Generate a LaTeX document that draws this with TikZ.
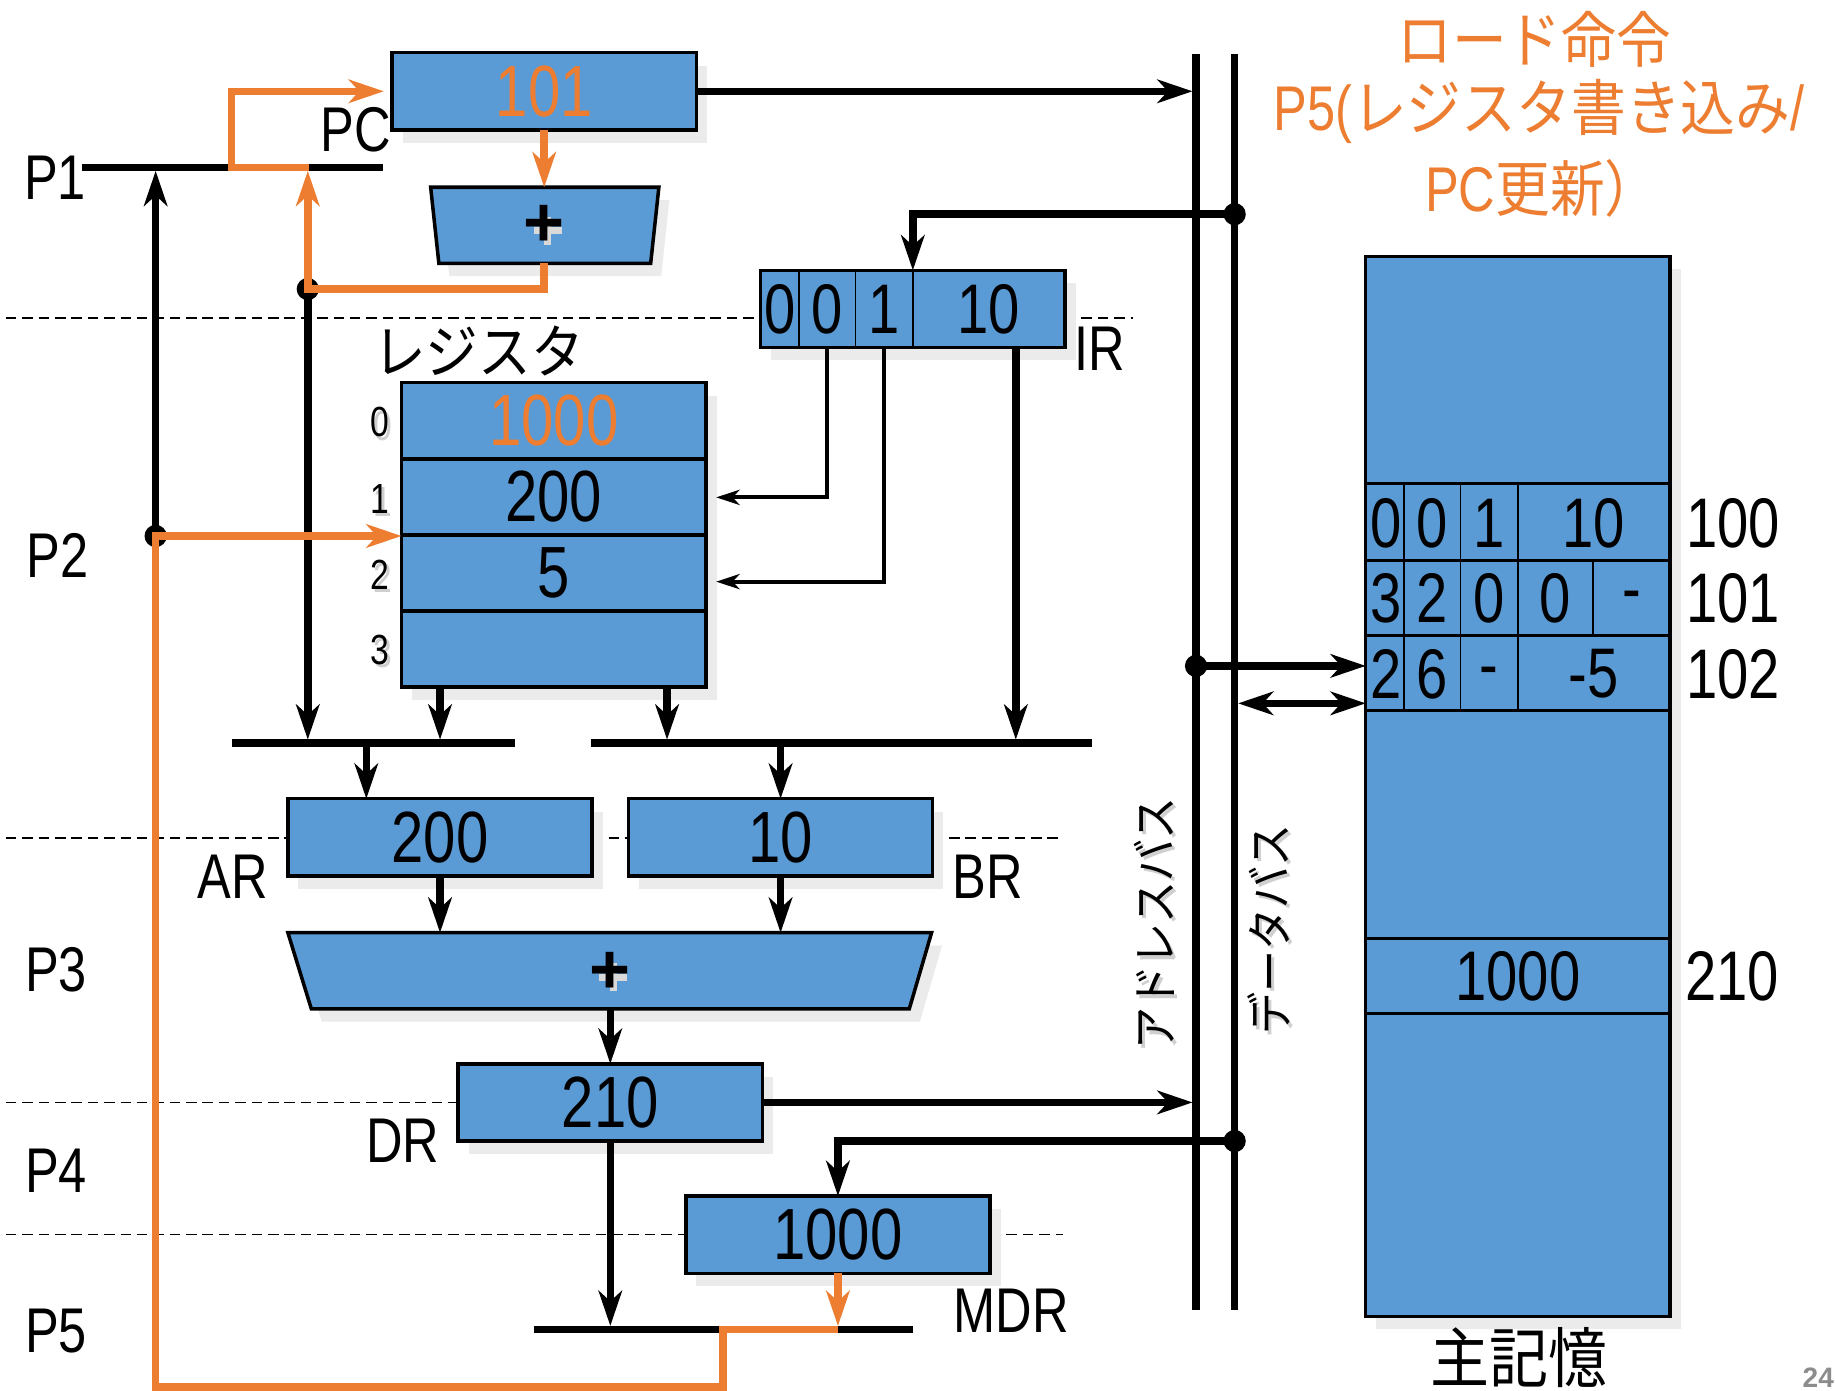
\documentclass[tikz,border=0pt]{standalone}
\usepackage{fontspec}
\setmainfont{Liberation Sans}[FakeStretch=0.8]
\newfontfamily\plainsans{Liberation Sans}
\newfontfamily\jp{Noto Sans CJK JP}[FakeStretch=0.9]
\usetikzlibrary{arrows.meta,calc,shadows}
\definecolor{boxblue}{HTML}{5B9BD5}
\definecolor{orng}{HTML}{ED7D31}
\definecolor{shd}{HTML}{EBEBEB}
\definecolor{tshd}{HTML}{CFCFCF}
\newcommand{\fsz}[1]{\fontsize{#1}{#1}\selectfont}
\tikzset{
  blk/.style={draw, line width=1.5pt, fill=boxblue, inner sep=0pt, outer sep=0pt,
    minimum width=130pt, minimum height=33pt, font=\fsz{31},
    general shadow={fill=shd, shadow xshift=4.5pt, shadow yshift=-5.5pt}},
  regrow/.style={blk, minimum height=32.5pt},
  lbl/.style={inner sep=0pt, font=\fsz{27}},
  memtxt/.style={inner sep=0pt, font=\fsz{30}},
  idx/.style={inner sep=0pt, font=\fsz{18}},
  wire/.style={line width=3.2pt},
  arr/.style={line width=3.2pt, -{Stealth[length=15pt,width=10pt,inset=4.5pt]}},
  thinarr/.style={line width=1.7pt, -{Stealth[length=10pt,width=6.5pt,inset=3pt]}},
  oarr/.style={draw=orng, line width=3.2pt, -{Stealth[length=15pt,width=10pt,inset=4.5pt]}},
  owire/.style={draw=orng, line width=3.2pt},
  zone/.style={line width=0.7pt, dash pattern=on 4.5pt off 2.5pt},
  dotc/.style={fill=black, circle, inner sep=0pt, minimum size=9.5pt},
  plus/.style={inner sep=0pt, font=\plainsans\bfseries\fsz{30}},
  plusshd/.style={draw=white!85!black, line width=3pt},
  ttl/.style={inner sep=0pt, text=orng, font=\jp\fsz{26}},
}
\begin{document}
\begin{tikzpicture}[x=0.5pt,y=-0.5pt]
\fill[white] (0,0) rectangle (1568,1188);
\useasboundingbox (0,0) rectangle (1568,1188);

% phase separators
\draw[zone] (5,272) -- (650,272);
\draw[zone] (910,272) -- (968,272);
\draw[zone] (5,716) -- (246,716);
\draw[zone] (506,716) -- (537,716);
\draw[zone] (797,716) -- (908,716);
\draw[zone] (5,942) -- (391,942);
\draw[zone] (5,1055) -- (586,1055);
\draw[zone] (846,1055) -- (908,1055);

% phase labels
\node[lbl] (P1) at (47,152) {P1};
\node[lbl] (P2) at (49,475) {P2};
\node[lbl] (P3) at (48,829) {P3};
\node[lbl] (P4) at (48,1000) {P4};
\node[lbl] (P5) at (48,1137) {P5};

% title
\node[ttl] (t1) at (1311,34) {ロード命令};
\node[ttl] (t2) at (1315,95) {{\normalfont\fsz{27}P5(}レジスタ書き込み{\normalfont\fsz{27}/}};
\node[ttl] (t3) at (1318,161) {{\normalfont\fsz{27}PC}更新）};

% buses
\coordinate (abT) at (1022,46); \coordinate (abB) at (1022,1119);
\coordinate (dbT) at (1055,46); \coordinate (dbB) at (1055,1119);
\draw[wire] (abT) -- (abB);
\draw[wire] (dbT) -- (dbB);
\node[inner sep=0pt, rotate=90, text=tshd, font=\jp\fsz{20}] (ablS) at (989,792) {アドレスバス};
\node[inner sep=0pt, rotate=90, font=\jp\fsz{20}] (abl) at (986,789) {アドレスバス};
\node[inner sep=0pt, rotate=90, text=tshd, font=\jp\fsz{20}] (dblS) at (1087,797) {データバス};
\node[inner sep=0pt, rotate=90, font=\jp\fsz{20}] (dbl) at (1084,794) {データバス};

% PC and incrementer
\node[blk, text=orng] (pc) at (465,78) {101};
\node[lbl] (pcl) at (304,111) {PC};
\fill[shd] (377,171) -- (572,171) -- (565,236) -- (384,236) -- cycle;
\filldraw[fill=boxblue, line width=1.5pt] (368,160) -- (563,160) -- (556,225) -- (375,225) -- cycle;
\coordinate (incT) at (465,160); \coordinate (incB) at (465,225);
\draw[plusshd] (456,197) -- (480,197) (468,185) -- (468,209);
\node[plus] (incp) at (465,193) {+};

% IR
\node[blk] (ir) at (780,264) {};
\draw[line width=0.8pt] (683,231) -- (683,297) (731,231) -- (731,297) (780,231) -- (780,297);
\node[memtxt] (ir0) at (666.5,264) {0};
\node[memtxt] (ir1) at (707,264) {0};
\node[memtxt] (ir2) at (755.5,264) {1};
\node[memtxt] (ir3) at (845,264) {10};
\node[lbl] (irl) at (940,298) {IR};

% register file
\node[inner sep=0pt, font=\jp\fsz{25}] (regl) at (409,300) {レジスタ};
\node[regrow, text=orng] (r0) at (473.25,359.5) {1000};
\node[regrow] (r1) at (473.25,424.5) {200};
\node[regrow] (r2) at (473.25,489.5) {5};
\node[regrow] (r3) at (473.25,554.5) {};
\node[idx, text=tshd] (i0s) at (327,364) {0};
\node[idx] (i0) at (325,361) {0};
\node[idx, text=tshd] (i1s) at (327,429) {1};
\node[idx] (i1) at (325,426) {1};
\node[idx, text=tshd] (i2s) at (327,494) {2};
\node[idx] (i2) at (325,491) {2};
\node[idx, text=tshd] (i3s) at (327,558) {3};
\node[idx] (i3) at (325,555) {3};

% AR, BR, ALU, DR, MDR
\node[blk] (ar) at (376,715.5) {200};
\node[lbl] (arl) at (199,749) {AR};
\node[blk] (br) at (667,715.5) {10};
\node[lbl] (brl) at (844,749) {BR};
\fill[shd] (255,808) -- (805,808) -- (786,873) -- (275,873) -- cycle;
\filldraw[fill=boxblue, line width=1.5pt] (246,797) -- (796,797) -- (777,862) -- (266,862) -- cycle;
\draw[plusshd] (512,835) -- (536,835) (524,823) -- (524,847);
\node[plus] (alup) at (521,831) {+};
\node[blk] (dr) at (521.5,942) {210};
\node[lbl] (drl) at (344,975) {DR};
\node[blk] (mdr) at (716,1055) {1000};
\node[lbl] (mdrl) at (864,1120) {MDR};

% main memory
\node[blk, minimum height=453pt] (mem) at (1297,672) {};
\draw[line width=1.2pt] (1168,413) -- (1426,413) (1168,479) -- (1426,479)
  (1168,543) -- (1426,543) (1168,607) -- (1426,607)
  (1168,802) -- (1426,802) (1168,866) -- (1426,866);
\draw[line width=0.8pt] (1200,413) -- (1200,607) (1248,413) -- (1248,607)
  (1297,413) -- (1297,607) (1361,479) -- (1361,543);
\node[memtxt] (m00) at (1184,447) {0};
\node[memtxt] (m01) at (1224,447) {0};
\node[memtxt] (m02) at (1272.5,447) {1};
\node[memtxt] (m03) at (1362,447) {10};
\node[memtxt] (m10) at (1184,511) {3};
\node[memtxt] (m11) at (1224,511) {2};
\node[memtxt] (m12) at (1272.5,511) {0};
\node[memtxt] (m13) at (1329,511) {0};
\node[memtxt] (m14) at (1394,514) {-};
\node[memtxt] (m20) at (1184,576) {2};
\node[memtxt] (m21) at (1224,576) {6};
\node[memtxt] (m22) at (1272.5,579) {-};
\node[memtxt] (m23) at (1362,576) {-5};
\node[memtxt] (m3) at (1297,834) {1000};
\node[memtxt] (a100) at (1481,447) {100};
\node[memtxt] (a101) at (1481,511) {101};
\node[memtxt] (a102) at (1481,576) {102};
\node[memtxt] (a210) at (1480,834) {210};
\node[inner sep=0pt, font=\jp\fsz{28}] (meml) at (1298,1160) {主記憶};
\node[inner sep=0pt, anchor=west, text=black!45, font=\plainsans\bfseries\fsz{12}] (pg) at (1540,1177) {24};

% named points
\coordinate (p1a) at (70,143); \coordinate (p1b) at (327,143);
\coordinate (p1in) at (133,146); \coordinate (p1inO) at (263,146);
\coordinate (bLa) at (198,635); \coordinate (bLb) at (440,635);
\coordinate (bRa) at (505,635); \coordinate (bRb) at (933,635);
\coordinate (bBa) at (456,1136); \coordinate (bBb) at (780,1136);

% dots
\node[dotc] (dP2) at (133,458) {};
\node[dotc] (dInc) at (263,247) {};
\node[dotc] (dIR) at (1055,183) {};
\node[dotc] (dMem) at (1022,569) {};
\node[dotc] (dMDR) at (1055,975) {};

% black wires
\draw[wire] (p1a) -- (p1b);
\draw[wire] (bLa) -- (bLb);
\draw[wire] (bRa) -- (bRb);
\draw[wire] (bBa) -- (bBb);
\draw[arr] (dP2.center) -- (p1in);
\draw[arr] (dInc.center) -- (263,632);
\draw[arr] (pc.east) -- (1019,78);
\draw[arr] (dIR.center) -| (ir.north);
\draw[thinarr] (707,297) |- (612,425);
\draw[thinarr] (755.5,297) |- (612,497);
\draw[arr] (868,297) -- (868,632);
\draw[arr] (376,587) -- (376,632);
\draw[arr] (570,587) -- (570,632);
\draw[arr] (313,635) -- (313,682.5);
\draw[arr] (667,635) -- (br.north);
\draw[arr] (376,748.5) -- (376,797);
\draw[arr] (667,748.5) -- (667,797);
\draw[arr] (521.5,862) -- (dr.north);
\draw[arr] (dr.east) -- (1019,942);
\draw[arr] (dMDR.center) -| (mdr.north);
\draw[arr] (dr.south) -- (521.5,1133);
\draw[arr] (dMem.center) -- (mem.west |- dMem);
\draw[line width=3.2pt, {Stealth[length=15pt,width=10pt,inset=4.5pt]}-{Stealth[length=15pt,width=10pt,inset=4.5pt]}] (1058,601) -- (1167,601);

% orange (active) paths
\draw[oarr] (264,143) -- (198,143) -- (198,78) -- (328,78);
\draw[oarr] (pc.south) -- (incT);
\draw[oarr] (incB) |- (dInc.center) -- (p1inO);
\draw[oarr] (mdr.south) -- (716,1133);
\draw[oarr] (716,1136) -- (618,1136) -- (618,1185) -- (133,1185) -- (dP2.center) -- (343,458);
\end{tikzpicture}
\end{document}
